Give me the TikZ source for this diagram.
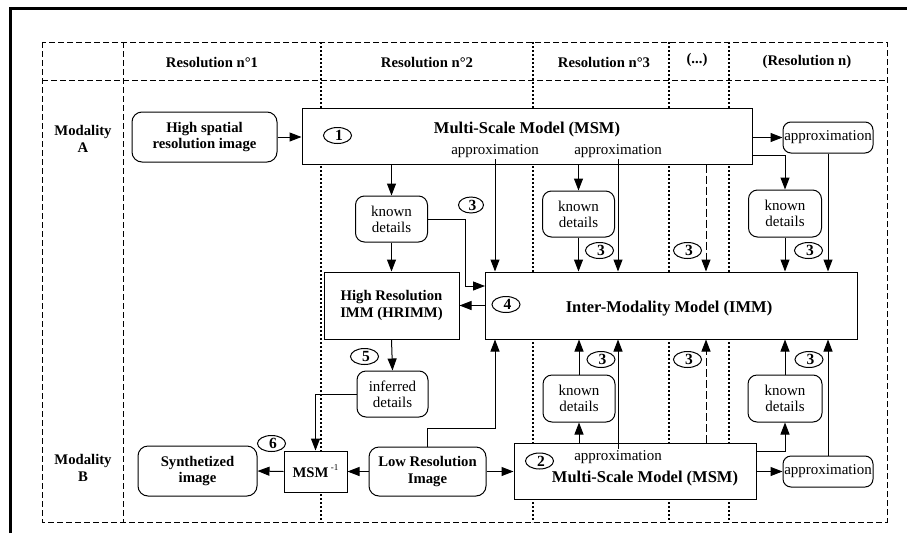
\documentclass[tikz,border=0pt]{standalone}
\usepackage{fontspec}
\setmainfont{Liberation Serif}
\usetikzlibrary{arrows.meta,shapes.geometric}
\newcommand{\dg}[1]{\hspace*{3pt}\raisebox{-2pt}{#1}}
\begin{document}
\begin{tikzpicture}[x=1pt,y=-1pt,
 line width=1pt,
 sz/.style 2 args={minimum width=#1,minimum height=#2},
 bx/.style={draw,fill=white,inner sep=0pt,align=center,font=\fontsize{14.7}{16.5}\selectfont\bfseries},
 rbx/.style={bx,rounded corners=10pt},
 tbx/.style={draw,fill=white,rounded corners=9pt,inner sep=0pt,align=center,font=\fontsize{15}{16}\selectfont},
 big/.style={inner sep=1pt,font=\fontsize{16.5}{18}\selectfont\bfseries},
 lbl/.style={inner sep=1pt,font=\fontsize{15}{16}\selectfont},
 num/.style={ellipse,draw,fill=white,minimum width=28pt,minimum height=16pt,inner sep=0pt,font=\fontsize{15.5}{15.5}\selectfont\bfseries},
 hdr/.style={font=\fontsize{14.7}{16.5}\selectfont\bfseries,align=center},
 arr/.style={-{Triangle[length=12pt,width=9pt]}},
 gdash/.style={line width=0.9pt,dash pattern=on 6pt off 3pt},
 gdot/.style={line width=2pt,dash pattern=on 2pt off 2pt},
 ldash/.style={dash pattern=on 8pt off 3pt},
]
\useasboundingbox[fill=white] (0,0) rectangle (907,533);
% outer frame
\draw[line width=3pt,line join=miter] (10,533) -- (10,8) -- (907,8);
% grid
\draw[gdash] (42,42) rectangle (887,522);
\draw[gdash] (42,80) -- (887,80);
\draw[gdash] (123,42) -- (123,522);
\foreach \gx in {321,533,669,729} \draw[gdot] (\gx,42) -- (\gx,522);
% headers
\node[hdr] (h1) at (212,62) {Resolution n°1};
\node[hdr] (h2) at (427,62) {Resolution n°2};
\node[hdr] (h3) at (604,62) {Resolution n°3};
\node[hdr] (h4) at (697,60) {(...)};
\node[hdr] (h5) at (807,62) {(Resolution n)};
\node[hdr] (mA) at (83,139) {Modality\\A};
\node[hdr] (mB) at (83,468) {Modality\\B};
% modality A
\node[rbx,sz={145pt}{50pt}] (hsri) at (204.5,137) {High spatial\\resolution image};
\node[bx,sz={450pt}{56pt}] (msmA) at (527,136) {};
\node[big] (msmAt) at (527,130) {Multi-Scale Model (MSM)};
\node[lbl] (ap1) at (495,151) {approximation};
\node[lbl] (ap2) at (618,151) {approximation};
\node[num] (n1) at (337.5,135.5) {\dg{1}};
\node[tbx,sz={90pt}{31pt},rounded corners=8pt] (apA) at (828,137.5) {approximation};
\node[tbx,sz={72pt}{46pt}] (kd2) at (391.5,219) {known\\details};
\node[tbx,sz={72pt}{46pt}] (kd3A) at (578.5,214) {known\\details};
\node[tbx,sz={73pt}{47pt}] (kdnA) at (785,213.5) {known\\details};
% middle
\node[bx,sz={135pt}{67pt}] (hrimm) at (391.5,305.5) {High Resolution\\IMM (HRIMM)};
\node[bx,sz={372pt}{67pt}] (imm) at (671.5,305.5) {};
\node[big] (immt) at (669,309) {Inter-Modality Model (IMM)};
\node[num] (n4) at (506,304.5) {\dg{4}};
\node[num,minimum width=25pt] (n3a) at (471,205) {\dg{3}};
\node[num] (n3b) at (599.5,250.5) {\dg{3}};
\node[num] (n3c) at (687.5,250.5) {\dg{3}};
\node[num] (n3d) at (808.5,250.5) {\dg{3}};
\node[num] (n3e) at (601,359.5) {\dg{3}};
\node[num] (n3f) at (687.5,359.5) {\dg{3}};
\node[num] (n3g) at (809,359.5) {\dg{3}};
\node[num] (n5) at (364.5,356.5) {\dg{5}};
\node[num] (n6) at (271.5,443.5) {\dg{6}};
\node[tbx,sz={71pt}{46pt}] (infd) at (392.5,394) {inferred\\details};
% modality B
\node[rbx,sz={119pt}{50pt}] (syn) at (197.5,471) {Synthetized\\image};
\node[bx,sz={63pt}{41pt}] (msmInv) at (315.5,471.5) {MSM\,\raisebox{7pt}{\fontsize{9}{9}\selectfont\mdseries -1}};
\node[rbx,sz={117pt}{49pt}] (lri) at (427.5,471.5) {Low Resolution\\Image};
\node[bx,sz={242pt}{56pt}] (msmB) at (635,471) {};
\node[big] (msmBt) at (645,479) {Multi-Scale Model (MSM)};
\node[lbl] (ap3) at (618,457) {approximation};
\node[num] (n2) at (539.5,461) {\dg{2}};
\node[tbx,sz={72pt}{47pt}] (kd3B) at (579,398.5) {known\\details};
\node[tbx,sz={74pt}{47pt}] (kdnB) at (785,398.5) {known\\details};
\node[tbx,sz={90pt}{31pt},rounded corners=8pt] (apB) at (828,471.5) {approximation};
% helper coordinates
\coordinate (k2) at (465,286);
\coordinate (lc) at (495,428);
\coordinate (dx) at (706,0);
% connectors, modality A
\draw[arr] (hsri.east) -- (hsri.east -| msmA.west);
\draw[arr] (apA.west -| msmA.east) -- (apA.west);
\draw[arr] ([yshift=9pt]msmA.south east) -| (kdnA.north);
\draw[arr] (apA.south) -- (apA.south |- imm.north);
\draw[arr] (kdnA.south) -- (kdnA.south |- imm.north);
\draw[arr] (kd3A.north |- msmA.south) -- (kd3A.north);
\draw[arr] (kd3A.south) -- (kd3A.south |- imm.north);
\draw[arr] (ap1.south) -- (ap1.south |- imm.north);
\draw[arr] (ap2.south) -- (ap2.south |- imm.north);
\draw[arr] (kd2.north |- msmA.south) -- (kd2.north);
\draw[arr] (kd2.south) -- (hrimm.north);
\draw[arr] (kd2.east) -| (k2) -- (k2 -| imm.west);
\draw[arr] (imm.west) -- (imm.west -| hrimm.east);
\draw[arr,ldash] (dx |- msmA.south) -- (dx |- imm.north);
% connectors, modality B
\draw[arr] (hrimm.south) -- (infd.north);
\draw[arr] (infd.west) -| (msmInv.north);
\draw[arr] (lri.west) -- (msmInv.east);
\draw[arr] (msmInv.west) -- (syn.east);
\draw[arr] (lri.east) -- (lri.east -| msmB.west);
\draw[arr] (lri.north) |- (lc) -- (lc |- imm.south);
\draw[arr] (kd3B.south |- msmB.north) -- (kd3B.south);
\draw[arr] (kd3B.north) -- (kd3B.north |- imm.south);
\draw[arr] (ap3.north) -- (ap3.north |- imm.south);
\draw[arr,ldash] (dx |- msmB.north) -- (dx |- imm.south);
\draw[arr] ([yshift=-9pt]msmB.north east) -| (kdnB.south);
\draw[arr] (kdnB.north) -- (kdnB.north |- imm.south);
\draw[arr] (apB.west -| msmB.east) -- (apB.west);
\draw[arr] (apB.north) -- (apB.north |- imm.south);
\end{tikzpicture}
\end{document}
